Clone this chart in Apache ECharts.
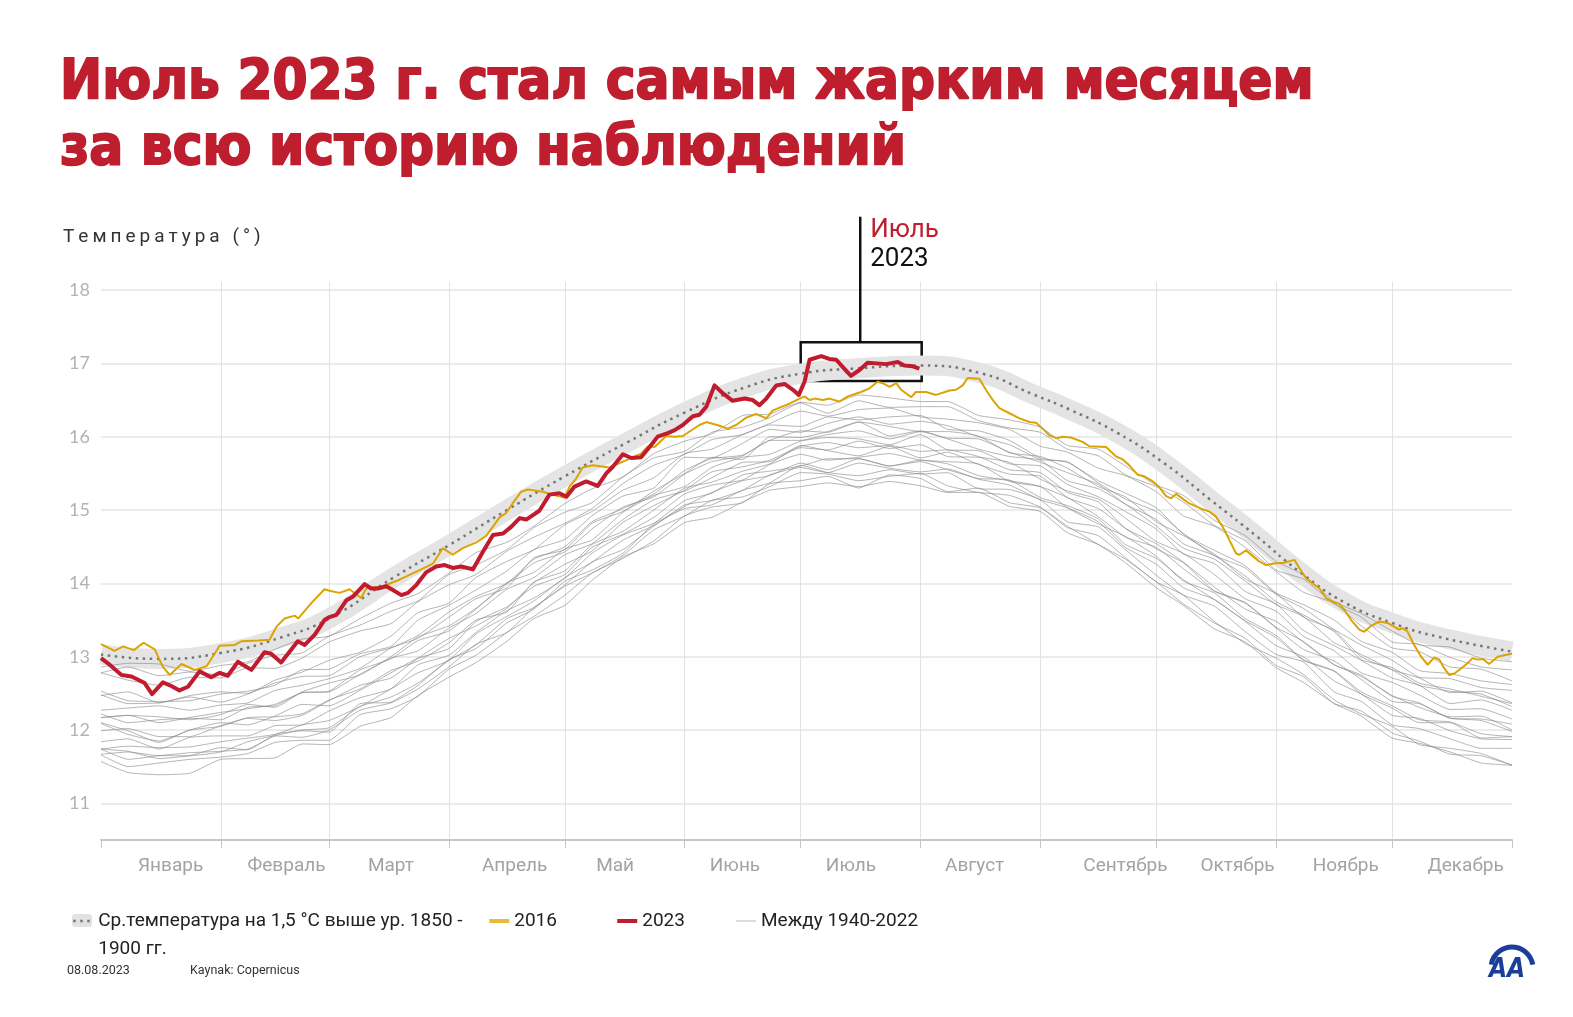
<!DOCTYPE html>
<html><head><meta charset="utf-8">
<script src="https://cdn.jsdelivr.net/npm/echarts@6/dist/echarts.min.js"></script>
<style>html,body{margin:0;padding:0;background:#fff}#c{width:1573px;height:1017px}</style>
</head><body><div id="c"></div>
<script>
// ---------- texts ----------
const TITLE_LINES = ['Июль 2023 г. стал самым жарким месяцем', 'за всю историю наблюдений'];
const Y_AXIS_NAME = 'Температура (°)';
const DATE_TEXT = '08.08.2023';
const SOURCE_TEXT = 'Kaynak: Copernicus';
const ANNOT_MONTH = 'Июль';
const ANNOT_YEAR = '2023';
const REF_NAME_L1 = 'Ср.температура на 1,5 °С выше ур. 1850 -';
const REF_NAME_L2 = '1900 гг.';
const REF_NAME = REF_NAME_L1 + ' ' + REF_NAME_L2;
const NAME_2016 = '2016';
const NAME_2023 = '2023';
const NAME_GREY = 'Между 1940-2022';

// ---------- axes ----------
const MONTHS = ['Январь','Февраль','Март','Апрель','Май','Июнь','Июль','Август','Сентябрь','Октябрь','Ноябрь','Декабрь'];
const MONTH_START_DAYS = [0,31,59,90,120,151,181,212,243,273,304,334,365];
const MONTH_LABEL_DAYS = [18,48,75,107,133,164,194,226,265,294,322,353];
const Y_TICKS = [11,12,13,14,15,16,17,18];

// ---------- reference curve (+1.5 °C above 1850-1900) ----------
const REF_DAYS = [0,14,31,47,59,76,90,105,120,136,151,167,181,195,212,228,241,251,263,275,287,299,310,322,334,346,365];
const REF_TEMP = [13.03,12.97,13.05,13.27,13.52,14.09,14.52,15.00,15.46,15.92,16.33,16.68,16.86,16.93,16.97,16.86,16.58,16.36,16.05,15.64,15.14,14.64,14.16,13.73,13.46,13.27,13.07];

// ---------- 2016 ----------
const Y2016_DAYS = [0,3.5,5.7,8.5,11,13.9,16,17.8,20.8,24.2,27.3,30.7,34.6,36.3,40.6,43.6,45.4,47.5,50.1,51,54.4,57.8,59.1,61.7,64.3,67.3,68.6,72.9,77.2,81.6,85.9,88.4,91,93.6,97.1,99.7,103.1,104.8,106.5,108.7,110.4,114.3,118.2,119.9,121.2,122.9,124.6,127.2,131.5,135.9,139.7,141.5,143.2,146.2,148.4,150.5,154.8,156.6,160,162.1,164.3,166.9,169.5,172.1,173.8,178.1,180.7,182,183.3,184.6,186.7,188.4,191,193.2,195.4,196.6,198.8,200.9,202.2,204,205.7,207,208.3,209.6,210.8,213.4,216,219.5,221.2,222.9,224.2,227.2,228.9,230.7,232.4,235,237.6,240.2,241.9,243.6,245.3,247.1,248.8,250.9,253.9,255.7,260,262.6,264.3,266,268.2,269.9,272.1,273.8,275.5,276.8,278.1,281.5,285,286.7,288.4,290.2,291.9,293.6,294.5,296.2,299.6,301.4,303.5,306.1,308.7,310,311.7,313.4,315.2,316.9,318.6,320.4,321.6,323.4,325.5,326.8,328.5,330.7,332.8,334.5,335.8,336.7,338,339.7,341.5,343.2,344.9,346.2,347.5,348.8,350.1,351.8,353.5,354.8,356.1,357.4,359.1,361.3,363,365];
const Y2016_TEMP = [13.17,13.08,13.14,13.09,13.19,13.10,12.86,12.75,12.90,12.82,12.87,13.15,13.16,13.21,13.22,13.23,13.41,13.52,13.56,13.52,13.73,13.92,13.90,13.87,13.92,13.80,13.93,13.96,14.05,14.16,14.27,14.48,14.39,14.48,14.56,14.65,14.90,14.96,15.09,15.25,15.28,15.25,15.19,15.17,15.32,15.43,15.58,15.61,15.58,15.68,15.77,15.87,15.86,16.01,16.00,16.01,16.16,16.20,16.15,16.11,16.16,16.26,16.31,16.25,16.36,16.45,16.52,16.55,16.50,16.52,16.50,16.52,16.48,16.55,16.59,16.61,16.66,16.75,16.73,16.68,16.73,16.64,16.59,16.54,16.61,16.61,16.57,16.63,16.64,16.70,16.80,16.79,16.64,16.50,16.39,16.32,16.25,16.20,16.19,16.11,16.02,15.98,16.00,15.99,15.93,15.87,15.86,15.73,15.69,15.61,15.48,15.46,15.39,15.31,15.19,15.16,15.22,15.09,15.01,14.98,14.91,14.77,14.59,14.41,14.39,14.45,14.30,14.25,14.27,14.28,14.32,14.21,14.07,14.00,13.93,13.80,13.75,13.72,13.64,13.50,13.37,13.34,13.42,13.48,13.46,13.41,13.37,13.39,13.34,13.16,13.00,12.89,12.99,12.96,12.84,12.75,12.77,12.84,12.91,12.98,12.96,12.97,12.90,13.00,13.02,13.04];

// ---------- 2023 ----------
const Y2023_DAYS = [0,1.8,5.3,7.9,11.3,13.2,16,18.2,20.3,22.5,25.5,28.5,30.7,32.8,35.4,38.9,42.3,44,46.6,50.9,52.7,55.3,57.8,59.1,60.9,63.5,65.2,68.2,69.9,71.6,73.8,75.5,77.7,79.4,81.6,84.1,86.7,88.9,91,93.2,96.2,98.8,101.4,104,106.1,108.3,110,113.4,116,118.6,120.4,122.5,125.5,128.5,130.7,132.4,135,137.2,139.7,141.9,144,146.6,148.4,150.5,153.1,154.8,156.6,158.7,160.9,163.4,166.5,168.6,170.3,172.1,174.7,176.8,179,180.5,182,183.3,186.3,188.4,190.2,191.9,194,196.2,198.3,203.1,206.1,207.8,210,211.7];
const Y2023_TEMP = [12.98,12.91,12.75,12.73,12.64,12.49,12.65,12.60,12.54,12.59,12.80,12.72,12.78,12.74,12.93,12.82,13.06,13.04,12.92,13.21,13.16,13.30,13.50,13.54,13.57,13.77,13.82,13.99,13.93,13.93,13.96,13.91,13.84,13.87,13.98,14.15,14.23,14.25,14.21,14.23,14.19,14.43,14.66,14.68,14.77,14.89,14.87,14.99,15.21,15.23,15.18,15.32,15.39,15.33,15.50,15.59,15.76,15.71,15.72,15.86,16.00,16.05,16.09,16.16,16.28,16.30,16.41,16.70,16.59,16.49,16.52,16.50,16.43,16.52,16.70,16.72,16.64,16.57,16.75,17.05,17.10,17.06,17.05,16.95,16.83,16.91,17.01,16.99,17.02,16.97,16.96,16.93];

// ---------- years 1940-2022 (sample of the grey bundle) ----------
const GREY_DAYS = [0,7,15,23,31,38,45,52,59,67,75,82,90,97,105,112,120,127,135,143,151,158,166,173,181,188,196,204,212,219,227,235,243,250,258,265,273,280,288,296,304,311,319,326,334,341,349,357,365];
const GREY_A = [11.57,11.42,11.39,11.41,11.60,11.61,11.62,11.81,11.80,12.05,12.17,12.47,12.72,12.92,13.21,13.52,13.70,14.04,14.36,14.54,14.83,14.90,15.11,15.27,15.32,15.37,15.32,15.39,15.33,15.24,15.24,15.05,14.98,14.69,14.53,14.28,13.94,13.70,13.38,13.20,12.85,12.65,12.36,12.19,11.89,11.82,11.70,11.55,11.52];
const GREY_M = [11.66,11.50,11.55,11.60,11.63,11.68,11.83,11.86,11.86,12.21,12.29,12.46,12.83,13.02,13.33,13.55,13.84,14.14,14.34,14.58,14.92,15.04,15.10,15.36,15.40,15.46,15.30,15.48,15.43,15.25,15.30,15.10,15.03,14.78,14.53,14.33,14.02,13.72,13.46,13.25,12.88,12.73,12.36,12.26,11.96,11.85,11.67,11.65,11.52];
const GREY_B = [11.67,11.70,11.65,11.65,11.70,11.84,11.92,11.90,12.00,12.27,12.37,12.56,12.86,13.17,13.33,13.67,13.96,14.14,14.38,14.73,14.92,15.13,15.18,15.32,15.51,15.49,15.40,15.46,15.50,15.33,15.24,15.20,15.04,14.76,14.65,14.35,14.02,13.84,13.48,13.18,12.98,12.76,12.41,12.22,12.05,11.80,11.75,11.68,11.52];
const GREY_S = [11.74,11.71,11.61,11.65,11.76,11.73,11.94,11.99,11.97,12.36,12.38,12.61,12.96,13.11,13.46,13.65,14.03,14.18,14.41,14.81,15.02,15.07,15.27,15.37,15.61,15.51,15.47,15.55,15.49,15.51,15.29,15.28,15.14,14.84,14.77,14.46,14.11,13.84,13.69,13.34,13.03,12.93,12.52,12.39,12.07,12.02,11.88,11.75,11.75];
const GREY_C = [11.74,11.60,11.65,11.69,11.71,11.74,11.92,12.00,12.03,12.32,12.45,12.64,12.95,13.16,13.52,13.67,13.98,14.29,14.46,14.78,15.07,15.13,15.27,15.48,15.58,15.51,15.64,15.57,15.52,15.56,15.42,15.34,15.14,15.03,14.84,14.49,14.26,13.94,13.78,13.48,13.15,13.00,12.67,12.49,12.20,12.16,11.99,11.88,11.87];
const GREY_N = [11.74,11.78,11.76,11.77,11.84,11.89,11.94,12.07,12.13,12.32,12.56,12.78,12.95,13.31,13.55,13.76,14.08,14.29,14.59,14.79,15.05,15.24,15.40,15.47,15.64,15.55,15.70,15.60,15.66,15.55,15.43,15.41,15.17,15.06,14.88,14.53,14.34,14.05,13.78,13.49,13.26,12.95,12.80,12.49,12.30,12.10,12.10,11.89,11.91];
const GREY_D = [11.84,11.88,11.74,11.90,11.92,11.92,12.06,12.07,12.26,12.44,12.56,12.89,13.02,13.33,13.63,13.80,14.07,14.41,14.66,14.82,15.13,15.23,15.48,15.53,15.60,15.70,15.70,15.60,15.68,15.63,15.47,15.40,15.32,15.03,14.81,14.64,14.37,14.03,13.87,13.52,13.29,12.96,12.81,12.52,12.33,12.14,12.11,11.95,11.91];
const GREY_E = [12.09,11.94,11.85,12.00,12.10,12.07,12.19,12.35,12.33,12.54,12.78,12.98,13.11,13.48,13.68,13.96,14.12,14.49,14.67,14.90,15.22,15.34,15.41,15.62,15.76,15.68,15.72,15.77,15.68,15.66,15.63,15.39,15.32,15.17,14.91,14.63,14.49,14.20,13.89,13.73,13.39,13.10,12.94,12.69,12.39,12.36,12.16,12.13,11.98];
const GREY_O = [12.10,11.99,11.83,12.00,12.05,12.17,12.18,12.22,12.41,12.56,12.81,12.94,13.19,13.50,13.61,14.02,14.17,14.53,14.71,15.00,15.30,15.38,15.53,15.63,15.88,15.81,15.74,15.87,15.71,15.79,15.62,15.49,15.46,15.17,15.02,14.75,14.47,14.28,13.90,13.74,13.40,13.21,12.89,12.73,12.47,12.31,12.18,12.19,12.00];
const GREY_F = [11.99,12.02,11.91,11.91,12.06,12.16,12.13,12.20,12.40,12.61,12.71,12.98,13.25,13.42,13.66,14.01,14.26,14.44,14.83,15.06,15.27,15.52,15.59,15.68,15.87,15.92,15.85,15.88,15.80,15.82,15.73,15.55,15.51,15.24,15.11,14.75,14.54,14.29,13.95,13.65,13.48,13.20,12.89,12.75,12.46,12.37,12.16,12.15,12.08];
const GREY_G = [12.22,12.10,12.14,12.16,12.14,12.31,12.33,12.51,12.52,12.76,12.98,13.08,13.39,13.59,13.92,14.08,14.39,14.54,14.87,15.14,15.26,15.44,15.65,15.66,15.85,15.82,15.94,15.84,15.89,15.73,15.72,15.65,15.42,15.26,15.15,14.89,14.57,14.41,14.12,13.79,13.62,13.28,13.08,12.78,12.65,12.48,12.28,12.29,12.15];
const GREY_P = [12.17,12.20,12.10,12.17,12.24,12.29,12.35,12.51,12.53,12.82,12.97,13.22,13.35,13.65,14.01,14.15,14.47,14.59,14.97,15.20,15.32,15.58,15.72,15.76,15.94,15.99,15.97,15.89,16.03,15.82,15.81,15.63,15.60,15.35,15.18,14.98,14.74,14.40,14.27,13.89,13.72,13.36,13.15,12.95,12.71,12.61,12.36,12.41,12.27];
const GREY_H = [12.17,12.20,12.18,12.14,12.21,12.35,12.31,12.52,12.64,12.75,13.00,13.27,13.42,13.66,13.99,14.28,14.43,14.74,15.04,15.18,15.49,15.66,15.74,15.95,15.95,16.03,16.08,15.97,16.07,15.97,15.83,15.73,15.68,15.40,15.29,15.08,14.78,14.48,14.33,14.03,13.71,13.55,13.19,13.03,12.82,12.61,12.53,12.49,12.32];
const GREY_T = [12.27,12.30,12.33,12.27,12.34,12.37,12.54,12.61,12.70,12.84,13.12,13.25,13.54,13.79,13.94,14.35,14.46,14.82,14.98,15.26,15.50,15.72,15.69,16.00,15.99,16.07,16.20,16.01,16.08,15.98,15.97,15.79,15.65,15.51,15.35,15.08,14.87,14.54,14.38,14.10,13.75,13.57,13.34,12.96,12.85,12.64,12.56,12.46,12.36];
const GREY_I = [12.48,12.36,12.37,12.45,12.38,12.49,12.64,12.73,12.74,13.00,13.12,13.29,13.61,13.82,14.00,14.33,14.50,14.84,15.02,15.22,15.54,15.70,15.75,15.95,16.08,16.06,16.20,16.14,16.07,16.07,16.01,15.78,15.73,15.57,15.32,15.18,14.84,14.65,14.40,14.06,13.86,13.54,13.36,13.00,12.82,12.71,12.51,12.53,12.37];
const GREY_Q = [12.53,12.40,12.39,12.40,12.49,12.53,12.61,12.82,12.83,13.04,13.14,13.50,13.70,13.91,14.17,14.46,14.60,14.92,15.19,15.30,15.72,15.71,15.91,16.10,16.06,16.18,16.27,16.17,16.21,16.15,16.00,15.89,15.69,15.66,15.37,15.15,14.98,14.68,14.38,14.21,13.85,13.66,13.37,13.16,12.95,12.72,12.70,12.58,12.54];
const GREY_J = [12.47,12.52,12.37,12.47,12.52,12.50,12.68,12.79,12.95,13.06,13.28,13.60,13.73,14.08,14.30,14.46,14.80,14.98,15.27,15.44,15.77,15.83,16.03,16.16,16.14,16.27,16.23,16.27,16.29,16.10,16.08,15.95,15.71,15.65,15.40,15.23,15.03,14.67,14.45,14.24,13.87,13.71,13.50,13.21,13.06,12.81,12.77,12.67,12.62];
const GREY_K = [12.78,12.68,12.61,12.72,12.71,12.85,12.84,12.98,13.20,13.35,13.45,13.75,13.98,14.12,14.44,14.63,14.82,15.02,15.36,15.61,15.76,15.96,16.03,16.18,16.35,16.28,16.37,16.39,16.27,16.24,16.19,16.10,15.87,15.79,15.57,15.47,15.25,14.92,14.78,14.49,14.16,13.88,13.73,13.42,13.12,13.07,12.86,12.83,12.67];
const GREY_R = [12.78,12.86,12.74,12.79,12.75,12.91,13.02,13.05,13.28,13.43,13.62,13.76,14.12,14.25,14.46,14.76,14.97,15.10,15.45,15.71,15.80,16.06,16.13,16.26,16.46,16.32,16.49,16.40,16.41,16.41,16.22,16.12,16.06,15.83,15.74,15.48,15.32,15.11,14.79,14.58,14.18,14.06,13.72,13.54,13.20,13.17,12.99,12.86,12.82];
const GREY_L = [12.86,12.91,12.90,12.80,12.88,12.93,13.10,13.24,13.28,13.52,13.73,13.86,14.14,14.42,14.56,14.78,15.09,15.29,15.45,15.77,15.94,16.04,16.29,16.31,16.47,16.43,16.57,16.53,16.48,16.48,16.29,16.23,16.13,15.88,15.83,15.60,15.34,15.20,14.86,14.65,14.30,14.12,13.75,13.59,13.35,13.16,13.13,12.98,12.93];
const GREY_LINES = [GREY_A,GREY_M,GREY_B,GREY_S,GREY_C,GREY_N,GREY_D,GREY_E,GREY_O,GREY_F,GREY_G,GREY_P,GREY_H,GREY_T,GREY_I,GREY_Q,GREY_J,GREY_K,GREY_R,GREY_L];

// ---------- July 2023 annotation (data coordinates) ----------
const BOX_DAY_FROM = 181, BOX_DAY_TO = 212.3, BOX_T_LOW = 16.76, BOX_T_HIGH = 17.29;
const POINTER_DAY = 196.4, POINTER_T_TOP = 19.0;

// ---------- styles ----------
const RED = '#c01b2e';
const GOLD = '#dba400';
const TITLE_RED = '#be1e2d';

const pairs = (xs, ys) => xs.map((x, i) => [x, ys[i]]);
const DAY_CATS = Array.from({length: 366}, (_, i) => String(i));
const spaced = s => Array.from(s).map(ch => '{s|' + ch + '}').join('');

const chart = echarts.init(document.getElementById('c'), null, {renderer: 'canvas'});

const greySeries = GREY_LINES.map(arr => ({
  name: NAME_GREY, type: 'line', data: pairs(GREY_DAYS, arr), symbol: 'none', smooth: 0.15,
  color: '#c4c4c4', lineStyle: {color: 'rgba(135,135,135,0.62)', width: 1}, z: 2, silent: true
}));

const option = {
  animation: false,
  backgroundColor: '#fff',
  title: [
    {text: TITLE_LINES.join('\n'), left: 60, top: 50, padding: 0,
     textStyle: {fontFamily: '"DejaVu Sans Condensed", "DejaVu Sans", sans-serif', fontWeight: 'bold', fontSize: 56, lineHeight: 66,
       color: TITLE_RED, textBorderColor: TITLE_RED, textBorderWidth: 1.8}},
    {text: spaced(Y_AXIS_NAME), left: 61, top: 228, padding: 0,
     textStyle: {rich: {s: {fontFamily: 'Roboto', fontWeight: 'normal', fontSize: 19, color: '#333', padding: [0, 2, 0, 2]}}}},
    {text: DATE_TEXT, left: 67, top: 964, padding: 0,
     textStyle: {fontFamily: 'Roboto', fontWeight: 'normal', fontSize: 12.5, color: '#333'}},
    {text: SOURCE_TEXT, left: 190, top: 964, padding: 0,
     textStyle: {fontFamily: 'Roboto', fontWeight: 'normal', fontSize: 12.5, color: '#333'}}
  ],
  legend: [
    {left: 72, top: 914, padding: 0, itemWidth: 20, itemHeight: 13, selectedMode: false, z: 3,
     formatter: () => '', textStyle: {fontSize: 10, lineHeight: 13},
     data: [{name: REF_NAME, icon: 'roundRect', itemStyle: {color: '#e2e2e2'}}]},
    {left: 72, top: 879, padding: 0, itemWidth: 20, itemHeight: 14, itemGap: 6, selectedMode: false, z: 5,
     textStyle: {fontFamily: 'Roboto', fontSize: 19, color: '#222', lineHeight: 28},
     formatter: name => name === REF_NAME ? '\n' + REF_NAME_L1 + '\n' + REF_NAME_L2 : name,
     data: [
       {name: REF_NAME, textStyle: {width: 383}, itemStyle: {opacity: 0}, lineStyle: {width: 2.5}},
       {name: NAME_2016, textStyle: {width: 95}, itemStyle: {opacity: 0}, lineStyle: {width: 4, color: '#e6bb3c'}},
       {name: NAME_2023, textStyle: {width: 87}, itemStyle: {opacity: 0}, lineStyle: {width: 4}},
       {name: NAME_GREY, itemStyle: {opacity: 0}, lineStyle: {width: 1.5, color: '#cfcfcf'}}
     ]}
  ],
  grid: {left: 101, right: 61, top: 282, bottom: 177, containLabel: false},
  xAxis: [
    {type: 'value', min: 0, max: 365, show: false},
    {type: 'category', data: DAY_CATS, boundaryGap: false, position: 'bottom',
     axisLine: {show: true, lineStyle: {color: '#c6c6c6', width: 2}},
     axisTick: {show: true, length: 8, interval: i => MONTH_START_DAYS.includes(i), lineStyle: {color: '#c6c6c6', width: 1}},
     axisLabel: {show: true, interval: i => MONTH_LABEL_DAYS.includes(i), margin: 17,
       formatter: (v, i) => MONTHS[MONTH_LABEL_DAYS.indexOf(i)] || '',
       color: '#a3a3a3', fontSize: 19, fontFamily: 'Roboto'},
     splitLine: {show: true, interval: i => MONTH_START_DAYS.includes(i) && i !== 0 && i !== 365,
       lineStyle: {color: '#e2e2e2', width: 1}}}
  ],
  yAxis: {
    type: 'value', min: 10.5, max: 18.11, interval: 0.5,
    axisLine: {show: false}, axisTick: {show: false},
    axisLabel: {margin: 11, color: '#b3b3b3', fontSize: 18, fontFamily: 'Lato',
      formatter: v => Y_TICKS.includes(Math.round(v * 100) / 100) ? String(Math.round(v)) : ''},
    splitLine: {show: true, lineStyle: {color: ['rgba(0,0,0,0)', '#e6e6e6'], width: 1.5}}
  },
  series: [
    {name: 'band', type: 'line', data: pairs(REF_DAYS, REF_TEMP), symbol: 'none', smooth: true,
     color: '#e4e4e4', lineStyle: {color: '#e4e4e4', width: 20, cap: 'butt'}, z: 1, silent: true},
    ...greySeries,
    {name: REF_NAME, type: 'line', data: pairs(REF_DAYS, REF_TEMP), symbol: 'none', smooth: true,
     color: '#767676', lineStyle: {color: '#767676', width: 2.5, type: [2.5, 4.5]}, z: 3, silent: true},
    {name: NAME_2016, type: 'line', data: pairs(Y2016_DAYS, Y2016_TEMP), symbol: 'none',
     color: GOLD, lineStyle: {color: GOLD, width: 2}, z: 4, silent: true},
    {name: NAME_2023, type: 'line', data: pairs(Y2023_DAYS, Y2023_TEMP), symbol: 'none', clip: false,
     color: RED, lineStyle: {color: RED, width: 4, join: 'round'}, z: 5, silent: true,
     markArea: {silent: true, itemStyle: {color: 'rgba(0,0,0,0)', borderColor: '#111', borderWidth: 2.5},
       data: [[{coord: [BOX_DAY_FROM, BOX_T_HIGH]}, {coord: [BOX_DAY_TO, BOX_T_LOW]}]]}}
  ]
};
chart.setOption(option);

const ptrTop = chart.convertToPixel({xAxisIndex: 0, yAxisIndex: 0}, [POINTER_DAY, POINTER_T_TOP]);
const ptrBottom = chart.convertToPixel({xAxisIndex: 0, yAxisIndex: 0}, [POINTER_DAY, BOX_T_HIGH]);
chart.setOption({
  graphic: [
    {type: 'line', silent: true, z: 10,
     shape: {x1: ptrTop[0], y1: ptrTop[1], x2: ptrBottom[0], y2: ptrBottom[1]},
     style: {stroke: '#111', lineWidth: 2.5}},
    {type: 'text', x: ptrTop[0] + 10, y: ptrTop[1] + 14, silent: true,
     style: {text: ANNOT_MONTH, fill: TITLE_RED, font: '26px Roboto', verticalAlign: 'middle'}},
    {type: 'text', x: ptrTop[0] + 10, y: ptrTop[1] + 43, silent: true,
     style: {text: ANNOT_YEAR, fill: '#111', font: '26px Roboto', verticalAlign: 'middle'}},
    {type: 'arc', silent: true, shape: {cx: 1512, cy: 968, r: 21, startAngle: Math.PI * 1.05, endAngle: Math.PI * 1.95},
     style: {stroke: '#1b3f98', lineWidth: 5, fill: null}},
    {type: 'text', x: 1489, y: 970, silent: true,
     style: {text: 'AA', fill: '#1b3f98', font: 'italic bold 26px "DejaVu Sans Condensed", sans-serif', verticalAlign: 'middle'}}
  ]
});
</script></body></html>
